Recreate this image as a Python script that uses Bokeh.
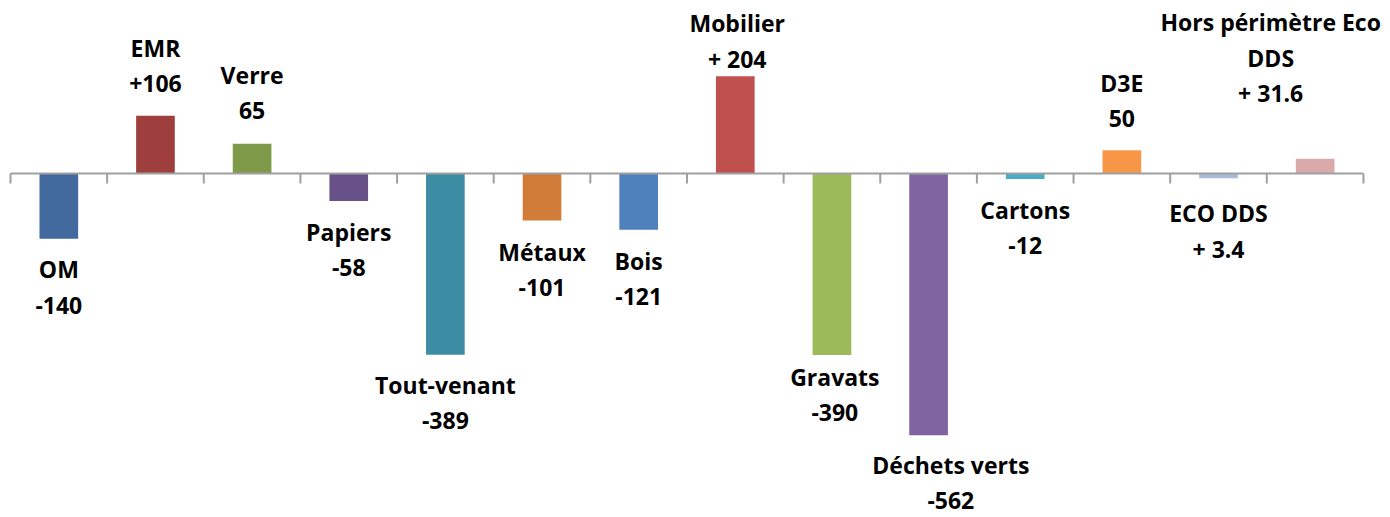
import numpy as np
from bokeh.plotting import figure
from bokeh.models import ColumnDataSource, Range1d
from bokeh.core.properties import value
from bokeh.embed import file_html
from bokeh.resources import INLINE

# ---- data -------------------------------------------------------------
categories = ["OM", "EMR", "Verre", "Papiers", "Tout-venant", "Métaux", "Bois",
              "Mobilier", "Gravats", "Déchets verts", "Cartons", "D3E",
              "ECO DDS", "Hors périmètre Eco DDS"]
bar_values = [-140, 124, 64, -59, -389, -101, -121, 209, -390, -562, -12, 50, -10, 31.6]
name_lines = [["OM"], ["EMR"], ["Verre"], ["Papiers"], ["Tout-venant"], ["Métaux"],
              ["Bois"], ["Mobilier"], ["Gravats"], ["Déchets verts"], ["Cartons"],
              ["D3E"], ["ECO DDS"], ["Hors périmètre Eco", "DDS"]]
value_labels = ["-140", "+106", "65", "-58", "-389", "-101", "-121", "+ 204",
                "-390", "-562", "-12", "50", "+ 3.4", "+ 31.6"]
colors = ["#41699D", "#9E3F3E", "#7F9A48", "#685088", "#3C8DA3", "#D27C3A", "#4F81BD",
          "#C0504D", "#9BBB59", "#8064A2", "#4BACC6", "#F79646", "#A9BAD8", "#D9AAA9"]

# ---- label layout (first-line baseline in value units, shift in categories) --
label_y = [-228.3, 247.6, 189.0, -147.5, -476.7, -190.5, -209.8,
           300.0, -459.5, -649.0, -100.9, 171.8, -108.0, 302.8]
label_dx = [0, 0, 0, 0, 0, 0, 0, 0.02, 0.03, 0.23, 0, 0, 0, -0.46]
LINE_GAP = 35.7   # px
BASE_FIX = -10.5  # px

n = len(categories)
centers = np.arange(n) + 0.5

W, H = 1390, 517
PX_PER_CAT = 96.64
PX_PER_UNIT = 0.4657
AXIS_FROM_TOP = 173
LEFT_PAD = 10

x0 = -LEFT_PAD / PX_PER_CAT
x1 = x0 + W / PX_PER_CAT
y1 = AXIS_FROM_TOP / PX_PER_UNIT
y0 = -(H - AXIS_FROM_TOP) / PX_PER_UNIT

p = figure(width=W, height=H, output_backend="svg", toolbar_location=None,
           x_axis_type=None, y_axis_type=None,
           x_range=Range1d(x0, x1), y_range=Range1d(y0, y1), min_border=0)
p.outline_line_color = None
p.background_fill_color = "white"
p.border_fill_color = "white"

bars = ColumnDataSource(dict(x=centers, top=bar_values, color=colors))
p.vbar(x="x", top="top", bottom=0, width=0.4, fill_color="color",
       line_color=None, source=bars)

# axis line and tick marks between categories
bounds = np.arange(n + 1)
axis_color = "#A0A0A0"
p.segment(x0=[0], y0=[0], x1=[n], y1=[0], line_color=axis_color, line_width=2)
tick_len = 10 / PX_PER_UNIT
p.segment(x0=bounds, y0=np.zeros(n + 1), x1=bounds, y1=-tick_len * np.ones(n + 1),
          line_color=axis_color, line_width=2)

# labels
tx, ty, tt, toff = [], [], [], []
for i in range(n):
    lines = name_lines[i] + [value_labels[i]]
    for k, line in enumerate(lines):
        tx.append(centers[i] + label_dx[i])
        ty.append(label_y[i])
        tt.append(line)
        toff.append(k * LINE_GAP + BASE_FIX)
labels = ColumnDataSource(dict(x=tx, y=ty, text=tt, yo=toff))
p.text(x="x", y="y", text="text", y_offset="yo", source=labels,
       text_font=value("Open Sans"), text_font_style="bold", text_font_size="23px",
       text_align="center", text_baseline="alphabetic", text_color="#000000")

open("out.html", "w").write(file_html(p, INLINE))
